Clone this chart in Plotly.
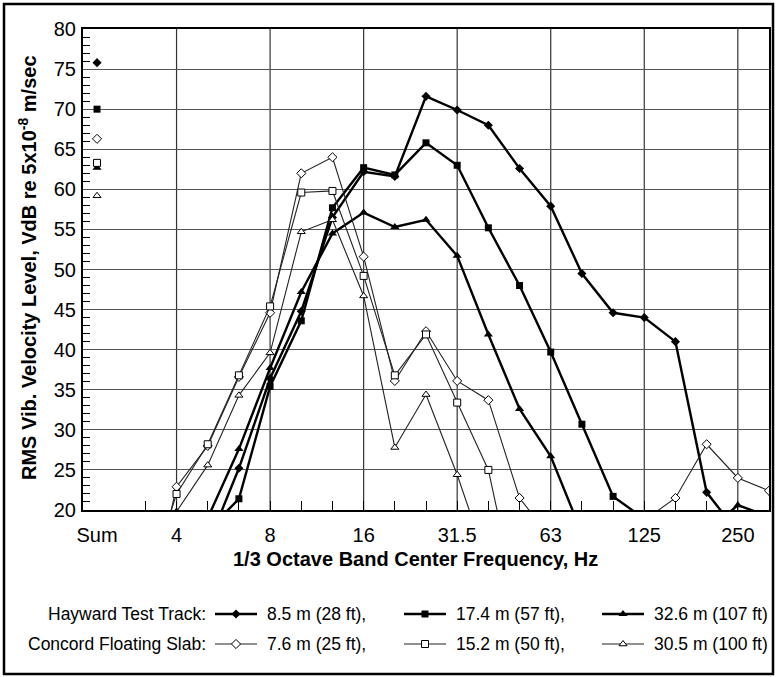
import plotly.graph_objects as go

# ---------------- data ----------------
bands = ["3.15", "4", "5", "6.3", "8", "10", "12.5", "16", "20", "25", "31.5",
         "40", "50", "63", "80", "100", "125", "160", "200", "250", "315"]
band_pos = list(range(-1, 20))          # 1/3-octave band index (4 Hz = 0)

label_bands = ["4", "8", "16", "31.5", "63", "125", "250"]
sum_label = "Sum"
sum_pos = -2.55

# Hayward Test Track
ht_8_5 = [5, 10, 15.6, 25.2, 36.4, 44.8, 56.5, 62.2, 61.6, 71.6, 69.9, 68.0, 62.6,
          57.9, 49.5, 44.6, 44.0, 41.0, 22.2, 17.2, 16.0]
ht_17_4 = [5, 8, 17.4, 21.4, 35.4, 43.6, 57.7, 62.7, 61.8, 65.8, 63.0, 55.2, 48.0,
           39.7, 30.7, 21.7, 18.9, 17.0, 16.0, 16.0, 15.0]
ht_32_6 = [5, 10, 19.0, 27.6, 37.7, 47.2, 54.5, 57.1, 55.3, 56.2, 51.7, 41.9, 32.6,
           26.7, 17.1, 16.0, 15.0, 15.0, 17.3, 20.6, 19.2]
# Concord Floating Slab
cf_7_6 = [6, 22.9, 28.0, 36.6, 44.6, 62.0, 64.0, 51.6, 36.1, 42.3, 36.1, 33.7, 21.5,
          16.5, 15.0, 15.0, 18.7, 21.5, 28.2, 24.0, 22.4]
cf_15_2 = [10, 22.0, 28.2, 36.8, 45.4, 59.6, 59.8, 49.2, 36.8, 41.9, 33.4, 25.0, 7.0,
           None, None, None, None, None, None, None, None]
cf_30_5 = [10, 19.8, 25.6, 34.3, 39.6, 54.7, 56.2, 46.7, 27.8, 34.4, 24.4, 13.0, None,
           None, None, None, None, None, None, None, None]

sum_ht = [75.8, 70.0, 62.7]
sum_cf = [66.3, 63.3, 59.2]

ht_labels = ["8.5 m (28 ft),", "17.4 m (57 ft),", "32.6 m (107 ft)"]
cf_labels = ["7.6 m (25 ft),", "15.2 m (50 ft),", "30.5 m (100 ft)"]
group_labels = ["Hayward Test Track:", "Concord Floating Slab:"]

# ---------------- styling ----------------
W, H = 776, 677
FONT = "Liberation Sans, Arial, sans-serif"
PL, PR, PT, PB = 83, 769, 29, 510      # plot area in pixels

styles_ht = [("diamond", 7), ("square", 7), ("triangle-up", 8)]
styles_cf = [("diamond", 7), ("square", 7), ("triangle-up", 7)]

fig = go.Figure()

def add_series(vals, s, sym, size, heavy):
    if heavy:
        line = dict(color="black", width=2.4)
        marker = dict(symbol=sym, size=size, color="black", line=dict(width=0))
    else:
        line = dict(color="#222", width=1.1)
        marker = dict(symbol=sym, size=size, color="white", line=dict(color="black", width=1))
    fig.add_trace(go.Scatter(x=band_pos, y=vals, mode="lines+markers", line=line,
                             marker=marker, showlegend=False, connectgaps=False,
                             xaxis="x", yaxis="y"))
    fig.add_trace(go.Scatter(x=[sum_pos], y=[s], mode="markers", marker=marker,
                             showlegend=False, xaxis="x", yaxis="y"))
    return line, marker

LEG_FONT = 17.5
legend_rows = [614, 644]
sample_x = [(215, 257), (404, 446), (602, 644)]
text_x = [265, 454, 652]

groups = [([ht_8_5, ht_17_4, ht_32_6], sum_ht, styles_ht, True, ht_labels),
          ([cf_7_6, cf_15_2, cf_30_5], sum_cf, styles_cf, False, cf_labels)]

annotations = []
for gi, (vals_list, sums, styles, heavy, labels) in enumerate(groups):
    row = legend_rows[gi]
    annotations.append(dict(x=208, y=row, xref="x2", yref="y2", text=group_labels[gi],
                            showarrow=False, xanchor="right", yanchor="middle",
                            font=dict(size=LEG_FONT, family=FONT, color="black")))
    for k, vals in enumerate(vals_list):
        sym, size = styles[k]
        line, marker = add_series(vals, sums[k], sym, size, heavy)
        x0, x1 = sample_x[k]
        fig.add_trace(go.Scatter(x=[x0, x1], y=[row, row], mode="lines", line=line,
                                 showlegend=False, xaxis="x2", yaxis="y2", hoverinfo="skip"))
        fig.add_trace(go.Scatter(x=[(x0 + x1) / 2], y=[row], mode="markers", marker=marker,
                                 showlegend=False, xaxis="x2", yaxis="y2", hoverinfo="skip"))
        annotations.append(dict(x=text_x[k], y=row, xref="x2", yref="y2", text=labels[k],
                                showarrow=False, xanchor="left", yanchor="middle",
                                font=dict(size=LEG_FONT, family=FONT, color="black")))

# axis titles
annotations.append(dict(x=27, y=268, xref="x2", yref="y2",
                        text="<b>RMS Vib. Velocity Level, VdB re 5x10<sup>-8</sup> m/sec</b>",
                        textangle=-90, showarrow=False, xanchor="center", yanchor="middle",
                        font=dict(size=20, family=FONT, color="black")))
annotations.append(dict(x=415, y=559, xref="x2", yref="y2",
                        text="<b>1/3 Octave Band Center Frequency, Hz</b>",
                        showarrow=False, xanchor="center", yanchor="middle",
                        font=dict(size=20, family=FONT, color="black")))

# vertical grid lines at the labelled bands
shapes = []
for lb in label_bands:
    xp = band_pos[bands.index(lb)]
    shapes.append(dict(type="line", xref="x", yref="y", x0=xp, x1=xp, y0=20, y1=80,
                       line=dict(color="#333", width=1.2), layer="below"))
# outer frame
shapes.append(dict(type="rect", xref="x2", yref="y2", x0=4, x1=773, y0=4, y1=674,
                   line=dict(color="black", width=2.5), layer="above"))

tickvals = [sum_pos] + [band_pos[bands.index(b)] for b in label_bands]
ticktext = [sum_label] + label_bands

fig.update_layout(
    width=W, height=H, margin=dict(l=0, r=0, t=0, b=0),
    paper_bgcolor="white", plot_bgcolor="rgba(0,0,0,0)",
    font=dict(family=FONT, color="black"),
    xaxis=dict(domain=[PL / W, PR / W], range=[-3, 19], tickmode="array",
               tickvals=tickvals, ticktext=ticktext, showgrid=False, ticks="",
               showline=True, linecolor="black", linewidth=2, mirror=True, zeroline=False,
               tickfont=dict(size=20, family=FONT, color="black"), ticklabelstandoff=6,
               minor=dict(tickvals=list(range(-1, 19)), ticks="inside", ticklen=9,
                          tickcolor="black", tickwidth=1, showgrid=False),
               anchor="y", automargin=False),
    yaxis=dict(domain=[(H - PB) / H, (H - PT) / H], range=[20, 80], tick0=0, dtick=5,
               showgrid=True, gridcolor="#555", gridwidth=1.2, ticks="",
               showline=True, linecolor="black", linewidth=2, mirror=True, zeroline=False,
               tickfont=dict(size=20, family=FONT, color="black"), ticklabelstandoff=1,
               minor=dict(dtick=1, tick0=0, ticks="inside", ticklen=7, tickcolor="black",
                          tickwidth=1, showgrid=False),
               anchor="x", automargin=False),
    xaxis2=dict(domain=[0, 1], range=[0, W], visible=False, anchor="y2", fixedrange=True),
    yaxis2=dict(domain=[0, 1], range=[H, 0], visible=False, anchor="x2", fixedrange=True),
    annotations=annotations, shapes=shapes,
)

fig.write_html("out.html", config={"displayModeBar": False},
               post_script="document.body.style.margin='0';document.body.style.overflow='hidden';")
